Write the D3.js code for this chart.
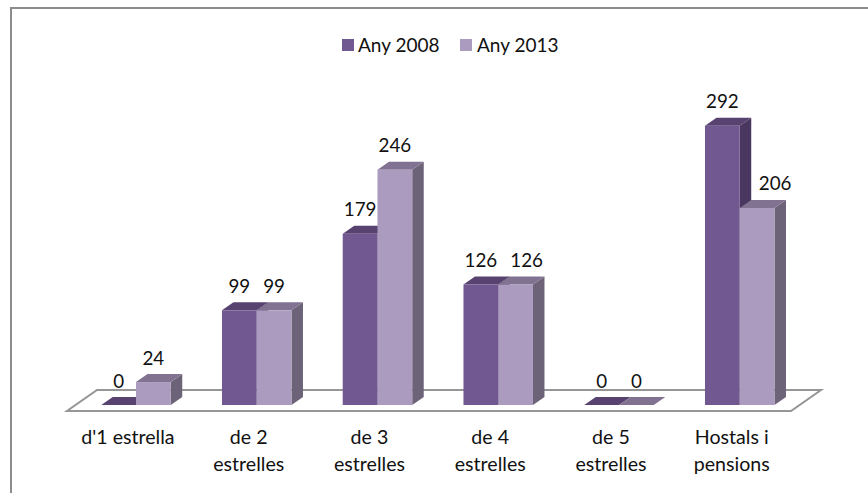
<!DOCTYPE html>
<html><head><meta charset="utf-8">
<script src="https://cdn.jsdelivr.net/npm/d3@7"></script>
<style>html,body{margin:0;background:#fff}svg{display:block}text{font-family:Lato,"Open Sans",sans-serif;fill:#111}</style>
</head><body><div id="c"></div>
<script>
const categories = [["d'1 estrella"],["de 2","estrelles"],["de 3","estrelles"],["de 4","estrelles"],["de 5","estrelles"],["Hostals i","pensions"]];
const seriesNames = ["Any 2008","Any 2013"];
const values2008 = [0,99,179,126,0,292];
const values2013 = [24,99,246,126,0,206];
const W=868,H=493;
const svg=d3.select("#c").append("svg").attr("width",W).attr("height",H);
const dx=11.5,dy=8,base=405,fs=18.8,catFs=19.6,legFs=19;
const frontFill=["#725890","#ab9bbe"],topFill=["#58426f","#807290"],sideFill=["#4a3760","#6d6378"];
// labels the original moved aside so they clear a neighbouring label or bar
const labelShift=new Map([["3-1",11],["5-1",18]]);
svg.append("path").attr("d",`M11,${H}V8H${W}`).attr("fill","none").attr("stroke","#8c8c8c").attr("stroke-width",2);
const x=d3.scaleBand().domain(d3.range(categories.length)).range([75.6,800.1]).paddingInner(0.4244).paddingOuter(0.2122);
const inner=d3.scaleBand().domain([0,1]).range([0,x.bandwidth()]);
const y=d3.scaleLinear().domain([0,292]).range([base,125.7]);
svg.append("path").attr("d",`M67,411H791L821,390H97Z`).attr("fill","#fff").attr("stroke","#969696").attr("stroke-width",2);
const order=[];
categories.forEach((c,i)=>{[0,1].forEach(s=>order.push({i,s,v:(s?values2013:values2008)[i]}));});
const g=svg.append("g");
order.forEach(d=>{
 const x0=x(d.i)+inner(d.s),w=inner.bandwidth(),y0=y(d.v);
 if(d.v>0) g.append("path").attr("d",`M${x0+w},${y0}l${dx},${-dy}V${base-dy}L${x0+w},${base}Z`).attr("fill",sideFill[d.s]);
 g.append("path").attr("d",`M${x0},${y0}l${dx},${-dy}h${w}l${-dx},${dy}Z`).attr("fill",topFill[d.s]);
 if(d.v>0) g.append("rect").attr("x",x0).attr("y",y0).attr("width",w).attr("height",base-y0).attr("fill",frontFill[d.s]);
});
order.forEach(d=>{
 const x0=x(d.i)+inner(d.s),w=inner.bandwidth(),y0=y(d.v);
 g.append("text").attr("x",x0+w/2+(labelShift.get(d.i+"-"+d.s)||0)).attr("y",y0-17.5).attr("text-anchor","middle").attr("font-size",fs).text(d.v);
});
categories.forEach((c,i)=>{
 const t=svg.append("text").attr("text-anchor","middle").attr("font-size",catFs);
 c.forEach((l,j)=>t.append("tspan").attr("x",x(i)+x.bandwidth()/2-8).attr("y",444+j*27).text(l));
});
const leg=svg.append("g");
[[342,358],[460,477]].forEach((p,s)=>{
 leg.append("rect").attr("x",p[0]).attr("y",39).attr("width",12).attr("height",12).attr("fill",frontFill[s]);
 leg.append("text").attr("x",p[1]).attr("y",52).attr("font-size",legFs).text(seriesNames[s]);
});
</script></body></html>
